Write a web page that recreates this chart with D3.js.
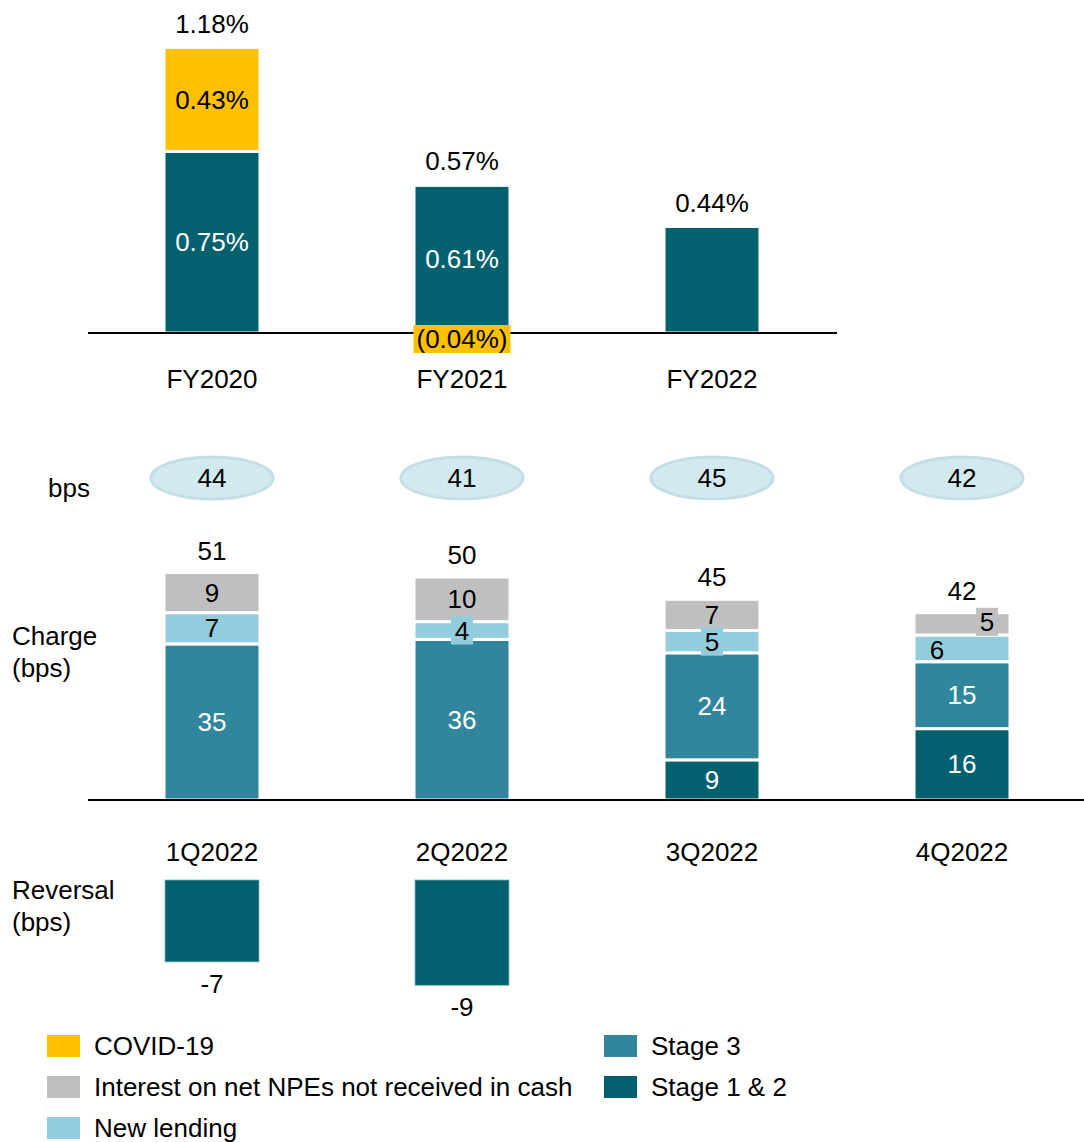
<!DOCTYPE html>
<html><head><meta charset="utf-8">
<script src="https://cdn.jsdelivr.net/npm/d3@7"></script>
<style>body{margin:0;background:#fff} text{font-family:"Liberation Sans",Arial,sans-serif}</style>
</head><body><svg id="c" width="1084" height="1142"></svg>
<script>
// ---- data ----
const years = ["FY2020", "FY2021", "FY2022"];
const yearStage12 = [0.75, 0.61, 0.44];
const yearCovid = [0.43, -0.04, 0];
const yearTotal = [1.18, 0.57, 0.44];

const quarters = ["1Q2022", "2Q2022", "3Q2022", "4Q2022"];
const qStage12 = [0, 0, 9, 16];
const qStage3 = [35, 36, 24, 15];
const qNewLending = [7, 4, 5, 6];
const qInterest = [9, 10, 7, 5];
const qTotal = [51, 50, 45, 42];
const qNet = [44, 41, 45, 42];
const qReversal = [-7, -9, 0, 0];

const seriesKeys = ["covid", "interest", "newLending", "stage3", "stage12"];
const seriesNames = ["COVID-19", "Interest on net NPEs not received in cash", "New lending", "Stage 3", "Stage 1 & 2"];

// ---- styles ----
const color = {covid: "#FFC000", interest: "#BFBFBF", newLending: "#93CDDD", stage3: "#31859C", stage12: "#03616F"};
const labelColor = {covid: "#000", interest: "#000", newLending: "#000", stage3: "#fff", stage12: "#fff"};
const FS = 26;
const barW = 96;

const svg = d3.select("#c");

// ================= TOP CHART =================
const xTop = d3.scalePoint().domain(years).range([87, 837]).padding(0.5);
const yTop = d3.scaleLinear().domain([0, 1]).range([333, 91]);

const topRows = years.map((y, i) => ({cat: y, stage12: yearStage12[i], covid: yearCovid[i], total: yearTotal[i]}));
const topStack = d3.stack().keys(["stage12", "covid"]).offset(d3.stackOffsetDiverging)(topRows);

const gTop = svg.append("g");
topStack.forEach(layer => {
  gTop.selectAll(null).data(layer.filter(d => d[1] !== d[0])).join("rect")
    .attr("x", d => xTop(d.data.cat) - barW / 2)
    .attr("width", barW)
    .attr("y", d => yTop(Math.max(d[0], d[1])))
    .attr("height", d => Math.abs(yTop(d[0]) - yTop(d[1])))
    .attr("fill", color[layer.key])
    .attr("stroke", "#fff").attr("stroke-width", 3);
});
gTop.append("line").attr("x1", 88).attr("x2", 837).attr("y1", yTop(0)).attr("y2", yTop(0))
  .attr("stroke", "#000").attr("stroke-width", 2);

topStack.forEach(layer => {
  layer.forEach(d => {
    const v = d.data[layer.key];
    if (v === 0) return;
    const cx = xTop(d.data.cat);
    if (v > 0) {
      if (layer.key === "stage12" && d.data.covid === 0) return;
      const cy = (yTop(d[0]) + yTop(d[1])) / 2;
      gTop.append("text").attr("x", cx).attr("y", cy).attr("dy", "0.35em")
        .attr("text-anchor", "middle").attr("font-size", FS).attr("fill", labelColor[layer.key])
        .text(v.toFixed(2) + "%");
    } else {
      const cy = yTop(0) + 6;
      const t = gTop.append("text").attr("x", cx).attr("y", cy).attr("dy", "0.35em")
        .attr("text-anchor", "middle").attr("font-size", FS).attr("fill", "#000")
        .text("(" + Math.abs(v).toFixed(2) + "%)");
      const bb = t.node().getBBox();
      gTop.insert("rect", () => t.node())
        .attr("x", bb.x - 3).attr("y", cy - 14).attr("width", bb.width + 6).attr("height", 28)
        .attr("fill", color[layer.key]);
    }
  });
});
gTop.selectAll(null).data(topRows).join("text")
  .attr("x", d => xTop(d.cat))
  .attr("y", d => yTop(d.stage12 + Math.max(d.covid, 0)) - 24)
  .attr("dy", "0.35em").attr("text-anchor", "middle").attr("font-size", FS).attr("fill", "#000")
  .text(d => d.total.toFixed(2) + "%");
gTop.selectAll(null).data(years).join("text")
  .attr("x", d => xTop(d)).attr("y", 379).attr("dy", "0.35em")
  .attr("text-anchor", "middle").attr("font-size", FS).text(d => d);

// ================= BOTTOM CHART =================
const xQ = d3.scalePoint().domain(quarters).range([87, 1087]).padding(0.5);
const yQ = d3.scaleLinear().domain([0, 50]).range([800, 577]);
const yR = d3.scaleLinear().domain([0, -10]).range([880, 997]);

const qRows = quarters.map((q, i) => ({cat: q, stage12: qStage12[i], stage3: qStage3[i], newLending: qNewLending[i], interest: qInterest[i], total: qTotal[i], net: qNet[i], rev: qReversal[i]}));
const qStack = d3.stack().keys(["stage12", "stage3", "newLending", "interest"])(qRows);

const gB = svg.append("g");

gB.selectAll(null).data(qRows).join("ellipse")
  .attr("cx", d => xQ(d.cat)).attr("cy", 478).attr("rx", 61).attr("ry", 21)
  .attr("fill", "#D2E9EF").attr("stroke", "#C5DEE6").attr("stroke-width", 3);
gB.selectAll(null).data(qRows).join("text")
  .attr("x", d => xQ(d.cat)).attr("y", 478).attr("dy", "0.35em")
  .attr("text-anchor", "middle").attr("font-size", FS).text(d => d.net);

gB.append("text").attr("x", 48).attr("y", 488).attr("dy", "0.35em").attr("font-size", FS).text("bps");
const lab2 = (txt, x, y) => {
  const t = gB.append("text").attr("x", x).attr("y", y).attr("font-size", FS);
  txt.forEach((s, i) => t.append("tspan").attr("x", x).attr("dy", i === 0 ? "0.35em" : 32).text(s));
};
lab2(["Charge", "(bps)"], 12, 636);
lab2(["Reversal", "(bps)"], 12, 890);

qStack.forEach(layer => {
  gB.selectAll(null).data(layer.filter(d => d[1] !== d[0])).join("rect")
    .attr("x", d => xQ(d.data.cat) - barW / 2)
    .attr("width", barW)
    .attr("y", d => yQ(d[1]))
    .attr("height", d => yQ(d[0]) - yQ(d[1]))
    .attr("fill", color[layer.key])
    .attr("stroke", "#fff").attr("stroke-width", 3);
});
gB.append("line").attr("x1", 88).attr("x2", 1084).attr("y1", yQ(0)).attr("y2", yQ(0))
  .attr("stroke", "#000").attr("stroke-width", 2);

qStack.forEach(layer => {
  layer.forEach(d => {
    const v = d.data[layer.key];
    if (!v) return;
    let cx = xQ(d.data.cat);
    let cy = (yQ(d[0]) + yQ(d[1])) / 2;
    const segH = yQ(d[0]) - yQ(d[1]);
    let boxed = false;
    if (layer.key === "newLending" && segH < 24) boxed = true;
    if (d.data.cat === "4Q2022" && layer.key === "interest") { cx += 25; cy -= 2; boxed = true; }
    if (d.data.cat === "4Q2022" && layer.key === "newLending") { cx -= 25; cy += 2; }
    if (boxed) {
      gB.append("rect").attr("x", cx - 11).attr("y", cy - 14).attr("width", 22).attr("height", 28)
        .attr("fill", color[layer.key]);
    }
    gB.append("text").attr("x", cx).attr("y", cy).attr("dy", "0.35em")
      .attr("text-anchor", "middle").attr("font-size", FS).attr("fill", labelColor[layer.key]).text(v);
  });
});
gB.selectAll(null).data(qRows).join("text")
  .attr("x", d => xQ(d.cat)).attr("y", d => yQ(d.stage12 + d.stage3 + d.newLending + d.interest) - 22)
  .attr("dy", "0.35em").attr("text-anchor", "middle").attr("font-size", FS).text(d => d.total);
gB.selectAll(null).data(quarters).join("text")
  .attr("x", d => xQ(d)).attr("y", 852).attr("dy", "0.35em")
  .attr("text-anchor", "middle").attr("font-size", FS).text(d => d);

const revRows = qRows.filter(d => d.rev !== 0);
gB.selectAll(null).data(revRows).join("rect")
  .attr("x", d => xQ(d.cat) - barW / 2 + 1).attr("width", barW - 2)
  .attr("y", yR(0)).attr("height", d => yR(d.rev) - yR(0))
  .attr("fill", color.stage12).attr("stroke", "#7FB3BD").attr("stroke-width", 0.8);
gB.selectAll(null).data(revRows).join("text")
  .attr("x", d => xQ(d.cat)).attr("y", d => yR(d.rev) + 22).attr("dy", "0.35em")
  .attr("text-anchor", "middle").attr("font-size", FS).text(d => d.rev);

// ================= LEGEND =================
const legendCols = [["covid", "interest", "newLending"], ["stage3", "stage12"]];
const legendX = [47, 604];
const gL = svg.append("g");
legendCols.forEach((col, ci) => {
  col.forEach((k, ri) => {
    const cy = 1046 + ri * 41;
    gL.append("rect").attr("x", legendX[ci]).attr("y", cy - 11).attr("width", 33).attr("height", 22).attr("fill", color[k]);
    gL.append("text").attr("x", legendX[ci] + 47).attr("y", cy).attr("dy", "0.35em")
      .attr("font-size", FS).text(seriesNames[seriesKeys.indexOf(k)]);
  });
});
</script></body></html>
